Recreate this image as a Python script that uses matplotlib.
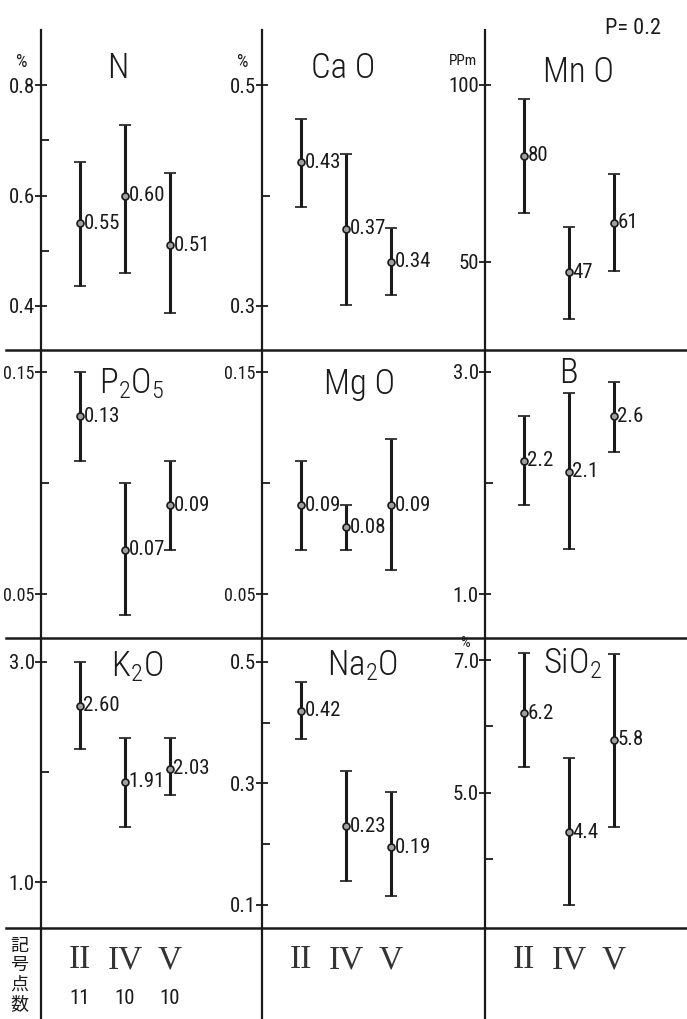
import matplotlib
matplotlib.use('Agg')
import matplotlib.pyplot as plt
from matplotlib.lines import Line2D
from matplotlib import font_manager

# fonts: narrow face for the hand lettering, CJK for the Japanese row heads
have = {f.name for f in font_manager.fontManager.ttflist}
narrow = next((f for f in ['Liberation Sans Narrow', 'Roboto Condensed', 'Open Sans Condensed', 'Liberation Sans']
               if f in have), 'DejaVu Sans')
serif = 'Liberation Serif' if 'Liberation Serif' in have else 'DejaVu Serif'
cjk = 'Noto Sans CJK JP'
plt.rcParams['font.family'] = [narrow, 'DejaVu Sans']
plt.rcParams['mathtext.default'] = 'regular'

# groups shared by every panel
groups = ['II', 'IV', 'V']
counts = ['11', '10', '10']

# mean, lower and upper limit (P=0.2) for each component
n_mean = [0.55, 0.60, 0.51]
n_low = [0.436, 0.460, 0.387]
n_high = [0.661, 0.728, 0.641]
n_lab = ['0.55', '0.60', '0.51']

cao_mean = [0.43, 0.37, 0.34]
cao_low = [0.390, 0.301, 0.310]
cao_high = [0.469, 0.438, 0.371]
cao_lab = ['0.43', '0.37', '0.34']

mno_mean = [80, 47, 61]
mno_low = [63.8, 33.9, 47.5]
mno_high = [96.0, 59.9, 74.9]
mno_lab = ['80', '47', '61']

p2o5_mean = [0.13, 0.07, 0.09]
p2o5_low = [0.110, 0.0405, 0.070]
p2o5_high = [0.150, 0.100, 0.110]
p2o5_lab = ['0.13', '0.07', '0.09']

mgo_mean = [0.09, 0.08, 0.09]
mgo_low = [0.070, 0.070, 0.061]
mgo_high = [0.110, 0.090, 0.120]
mgo_lab = ['0.09', '0.08', '0.09']

b_mean = [2.2, 2.1, 2.6]
b_low = [1.80, 1.41, 2.28]
b_high = [2.60, 2.81, 2.91]
b_lab = ['2.2', '2.1', '2.6']

k2o_mean = [2.60, 1.91, 2.03]
k2o_low = [2.21, 1.50, 1.79]
k2o_high = [3.00, 2.31, 2.31]
k2o_lab = ['2.60', '1.91', '2.03']

na2o_mean = [0.42, 0.23, 0.195]
na2o_low = [0.373, 0.139, 0.115]
na2o_high = [0.467, 0.320, 0.286]
na2o_lab = ['0.42', '0.23', '0.19']

sio2_mean = [6.2, 4.4, 5.8]
sio2_low = [5.39, 3.30, 4.48]
sio2_high = [7.10, 5.52, 7.09]
sio2_lab = ['6.2', '4.4', '5.8']

W, H = 687, 1019
fig = plt.figure(figsize=(W / 100, H / 100), dpi=100)
fig.patch.set_facecolor('white')

col_x = [41, 262, 485]
col_r = [262, 485, 687]
rows = [(30, 350), (350, 638), (638, 928)]
step = 45.0   # px between groups
first = 39.0  # px from axis to first group

# (title, mean, low, high, labels, ylim, ticks, ticklabels, minor, unit, title position px)
panels = [
    ('N', n_mean, n_low, n_high, n_lab, (0.320, 0.900), [0.4, 0.6, 0.8], ['0.4', '0.6', '0.8'], [0.5, 0.7], '%', (118, 68)),
    ('Ca O', cao_mean, cao_low, cao_high, cao_lab, (0.260, 0.550), [0.3, 0.5], ['0.3', '0.5'], [0.4], '%', (343, 68)),
    ('Mn O', mno_mean, mno_low, mno_high, mno_lab, (25.1, 115.5), [50, 100], ['50', '100'], [], 'PPm', (578, 72)),
    ('P$_2$O$_5$', p2o5_mean, p2o5_low, p2o5_high, p2o5_lab, (0.0302, 0.1599), [0.05, 0.15], ['0.05', '0.15'], [0.10], None, (132, 384)),
    ('Mg O', mgo_mean, mgo_low, mgo_high, mgo_lab, (0.0302, 0.1599), [0.05, 0.15], ['0.05', '0.15'], [0.10], None, (360, 384)),
    ('B', b_mean, b_low, b_high, b_lab, (0.604, 3.198), [1.0, 3.0], ['1.0', '3.0'], [2.0], None, (568, 373)),
    ('K$_2$O', k2o_mean, k2o_low, k2o_high, k2o_lab, (0.582, 3.218), [1.0, 3.0], ['1.0', '3.0'], [2.0], None, (137, 667)),
    ('Na$_2$O', na2o_mean, na2o_low, na2o_high, na2o_lab, (0.0621, 0.5395), [0.1, 0.3, 0.5], ['0.1', '0.3', '0.5'], [0.2, 0.4], None, (363, 666)),
    ('SiO$_2$', sio2_mean, sio2_low, sio2_high, sio2_lab, (2.960, 7.332), [5.0, 7.0], ['5.0', '7.0'], [4.0, 6.0], '%', (572, 664)),
]

ink = '#1a1a1a'
xs = [1, 2, 3]


def bare_axes(rect):
    a = fig.add_axes(rect)
    a.set_facecolor('none')
    for s in ['top', 'right', 'bottom']:
        a.spines[s].set_visible(False)
    a.spines['left'].set_linewidth(1.6)
    a.spines['left'].set_color(ink)
    a.set_xticks([])
    return a


for i, (title, mean, low, high, labs, ylim, ticks, tlabs, minor, unit, tpos) in enumerate(panels):
    r, c = divmod(i, 3)
    y0, y1 = rows[r]
    x0, x1 = col_x[c], col_r[c]
    ax = bare_axes([x0 / W, 1 - y1 / H, (x1 - x0) / W, (y1 - y0) / H])
    lo = 1 - first / step
    ax.set_xlim(lo, lo + (x1 - x0) / step)
    ax.set_ylim(*ylim)
    ax.set_yticks(ticks)
    ax.set_yticklabels(tlabs)
    ax.set_yticks(minor, minor=True)
    wide = max(len(t) for t in tlabs) >= 4
    ax.tick_params(axis='y', which='major', direction='inout', length=9, width=1.3,
                   pad=0, labelsize=13 if wide else 15, colors=ink)
    ax.tick_params(axis='y', which='minor', direction='in', length=6, width=1.3, colors=ink)

    yerr = [[m - l for m, l in zip(mean, low)], [h - m for m, h in zip(mean, high)]]
    ax.errorbar(xs, mean, yerr=yerr, fmt='o', color=ink, ecolor=ink, elinewidth=2.2,
                capsize=4, capthick=2.0, ms=5, mfc='#a0a0a0', mec=ink, mew=1.2)
    for x, m, lab in zip(xs, mean, labs):
        ax.annotate(lab, (x, m), xytext=(2.5, 0), textcoords='offset points',
                    va='center', ha='left', fontsize=15, color=ink)

    if unit:
        up = 12 if r == 2 else 17
        ax.annotate(unit, xy=(0, ticks[-1]), xycoords=('axes fraction', 'data'),
                    xytext=(-14 if unit == '%' else -16, up), textcoords='offset points',
                    ha='center', va='center', fontsize=(11 if r == 2 else 13) if unit == '%' else 11,
                    color=ink)

    fig.text(tpos[0] / W, 1 - tpos[1] / H, title, ha='center', va='center',
             fontsize=25, fontweight='light', color=ink)

# bottom strip: group symbols and sample counts
for c in range(3):
    x0, x1 = col_x[c], col_r[c]
    tb = bare_axes([x0 / W, 0, (x1 - x0) / W, (H - 928) / H])
    tb.set_yticks([])
    lo = 1 - first / step
    tb.set_xlim(lo, lo + (x1 - x0) / step)
    tb.set_ylim(0, 1)
    for x, g in zip(xs, groups):
        tb.text(x, 0.65, g, ha='center', va='center', fontsize=24, family=serif, color='#333333')
    if c == 0:
        for x, n in zip(xs, counts):
            tb.text(x, 0.22, n, ha='center', va='center', fontsize=15, color=ink)

fig.text(19 / W, 1 - 975 / H, '記\n号\n点\n数', ha='center', va='center',
         fontsize=13, linespacing=1.08, family=cjk, color=ink)

# row dividers
for y in [350, 638, 928]:
    fig.add_artist(Line2D([6 / W, 1], [1 - y / H, 1 - y / H], transform=fig.transFigure,
                          color=ink, lw=1.8))

fig.text(633 / W, 1 - 28 / H, 'P= 0.2', ha='center', va='center', fontsize=16, color=ink)

fig.savefig('out.png', dpi=100, facecolor='white')
